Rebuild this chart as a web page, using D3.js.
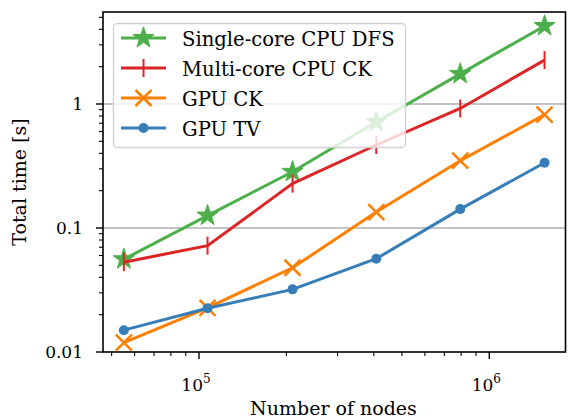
<!DOCTYPE html>
<html><head><meta charset="utf-8">
<script src="https://cdn.jsdelivr.net/npm/d3@7"></script>
<style>body{margin:0;background:#fff}svg{display:block}text{font-family:"DejaVu Serif",serif;fill:#000}</style>
</head><body><svg id="c" width="573" height="420"></svg>
<script>
const nodes = [55100, 107000, 210000, 408000, 794000, 1550000];
const seriesNames = ["Single-core CPU DFS", "Multi-core CPU CK", "GPU CK", "GPU TV"];
const singleCoreDFS = [0.056, 0.126, 0.284, 0.716, 1.75, 4.26];
const multiCoreCK = [0.053, 0.072, 0.228, 0.467, 0.92, 2.26];
const gpuCK = [0.0119, 0.0227, 0.0478, 0.1345, 0.349, 0.82];
const gpuTV = [0.0150, 0.0225, 0.032, 0.0565, 0.142, 0.336];
const yTickLabels = ["0.01", "0.1", "1"];
const xTickExps = ["5", "6"];

const colors = ["#4daf4a", "#dc2526", "#ff7f00", "#377eb8"];
const markers = ["star", "plus", "x", "circle"];
const seriesData = [singleCoreDFS, multiCoreCK, gpuCK, gpuTV];

const L = 103, R = 565.5, T = 12, B = 352;
const FS = 17, LFS = 19, GFS = 19.6;
const svg = d3.select("#c");
const x = d3.scaleLog().domain([46700, 1830000]).range([L, R]);
const y = d3.scaleLog().domain([0.01, 5.52]).range([B, T]);

// grid
const yMajor = [0.01, 0.1, 1];
svg.append("g").selectAll("line").data(yMajor.slice(1)).join("line")
  .attr("x1", L).attr("x2", R).attr("y1", d => y(d)).attr("y2", d => y(d))
  .attr("stroke", "#b0b0b0").attr("stroke-width", 1.3);

// minor ticks
const yMinor = [];
for (const dec of [0.01, 0.1, 1]) for (let k = 2; k <= 9; k++) { const v = dec * k; if (v <= 5.52) yMinor.push(v); }
const xMinor = [];
for (const dec of [1e4, 1e5, 1e6]) for (let k = 2; k <= 9; k++) { const v = dec * k; if (v >= 46700 && v <= 1830000) xMinor.push(v); }

const ax = svg.append("g");
ax.selectAll(".ymin").data(yMinor).join("line").attr("x1", L - 4).attr("x2", L).attr("y1", d => y(d)).attr("y2", d => y(d)).attr("stroke", "#000").attr("stroke-width", 1.1);
ax.selectAll(".ymaj").data(yMajor).join("line").attr("x1", L - 7).attr("x2", L).attr("y1", d => y(d)).attr("y2", d => y(d)).attr("stroke", "#000").attr("stroke-width", 1.4);
ax.selectAll(".xmin").data(xMinor).join("line").attr("y1", B).attr("y2", B + 4).attr("x1", d => x(d)).attr("x2", d => x(d)).attr("stroke", "#000").attr("stroke-width", 1.1);
ax.selectAll(".xmaj").data([1e5, 1e6]).join("line").attr("y1", B).attr("y2", B + 7).attr("x1", d => x(d)).attr("x2", d => x(d)).attr("stroke", "#000").attr("stroke-width", 1.4);

ax.selectAll(".ylab").data(yMajor).join("text").attr("x", L - 20).attr("y", d => y(d) + 6)
  .attr("text-anchor", "end").attr("font-size", FS).text((d, i) => yTickLabels[i]);
const xl = ax.selectAll(".xlab").data([1e5, 1e6]).join("text").attr("x", d => x(d) - 3).attr("y", B + 39)
  .attr("text-anchor", "middle").attr("font-size", FS);
xl.append("tspan").text("10");
xl.append("tspan").attr("dy", -8).attr("font-size", 12).text((d, i) => xTickExps[i]);

svg.append("text").attr("x", 333.5).attr("y", 415).attr("text-anchor", "middle").attr("font-size", LFS).text("Number of nodes");
svg.append("text").attr("transform", `translate(26,${(T + B) / 2}) rotate(-90)`).attr("text-anchor", "middle").attr("font-size", LFS).text("Total time [s]");

// markers
function drawMarker(g, type, color) {
  if (type === "star") {
    g.append("path").attr("d", d3.symbol(d3.symbolStar, 140)()).attr("fill", color).attr("stroke", color).attr("stroke-width", 1);
  } else if (type === "plus") {
    g.append("path").attr("d", "M0,-9V9").attr("stroke", color).attr("stroke-width", 2);
  } else if (type === "x") {
    g.append("path").attr("d", "M-8,-8L8,8M-8,8L8,-8").attr("stroke", color).attr("stroke-width", 2.5);
  } else {
    g.append("circle").attr("r", 5).attr("fill", color);
  }
}

const line = d3.line().x((d, i) => x(nodes[i])).y(d => y(d));
seriesData.forEach((s, si) => {
  const g = svg.append("g");
  g.append("path").attr("d", line(s)).attr("fill", "none").attr("stroke", colors[si]).attr("stroke-width", 3);
  s.forEach((v, i) => {
    const m = g.append("g").attr("transform", `translate(${x(nodes[i])},${y(v)})`);
    drawMarker(m, markers[si], colors[si]);
  });
});

// frame
svg.append("rect").attr("x", L).attr("y", T).attr("width", R - L).attr("height", B - T).attr("fill", "none").attr("stroke", "#000").attr("stroke-width", 1.6);

// legend
const lg = svg.append("g");
lg.append("rect").attr("x", 113.5).attr("y", 23.5).attr("width", 292).attr("height", 124).attr("rx", 4)
  .attr("fill", "rgba(255,255,255,0.8)").attr("stroke", "#d0d0d0").attr("stroke-width", 1.3);
seriesNames.forEach((nm, i) => {
  const yy = 38 + i * 30;
  lg.append("line").attr("x1", 121).attr("x2", 166).attr("y1", yy).attr("y2", yy).attr("stroke", colors[i]).attr("stroke-width", 3);
  drawMarker(lg.append("g").attr("transform", `translate(143.5,${yy})`), markers[i], colors[i]);
  lg.append("text").attr("x", 182).attr("y", yy + 8).attr("font-size", GFS).text(nm);
});
</script></body></html>
